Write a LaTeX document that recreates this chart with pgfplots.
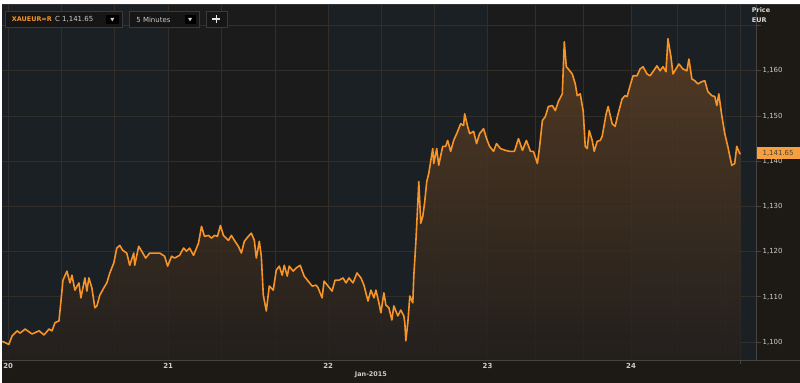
\documentclass[border=0pt]{standalone}
\usepackage{pgfplots}
\pgfplotsset{compat=1.18}
\usepackage{pgfplotstable}
\usepackage{fontspec}
\setmainfont{DejaVu Sans}
\definecolor{bandA}{RGB}{27,32,37}
\definecolor{bandB}{RGB}{27,27,27}
\definecolor{outerc}{RGB}{29,26,22}
\definecolor{gridc}{RGB}{50,47,43}
\definecolor{lineor}{RGB}{247,148,40}
\definecolor{tagor}{RGB}{247,160,64}
\definecolor{fillTop}{RGB}{92,63,36}
\definecolor{fillBot}{RGB}{36,32,29}
\definecolor{labc}{RGB}{205,205,205}
\definecolor{boxbg}{RGB}{22,22,22}
\definecolor{boxln}{RGB}{58,58,58}
\definecolor{axln}{RGB}{70,68,65}

\pgfplotstableread{
x p
0 1100.2
6.7 1099.5
10 1101.4
15 1102.5
18 1102.0
23 1102.9
30 1101.8
37 1102.5
42 1101.6
47 1102.9
50 1102.5
53 1104.3
57 1104.7
59 1109.1
61 1113.7
65 1115.7
68 1113.1
70 1114.8
73 1111.5
77 1113.1
79 1109.8
83 1114.2
85 1111.3
87 1114.2
90 1112.0
93 1107.6
95 1108.0
98 1110.4
102 1112.0
105 1113.1
108 1115.3
112 1117.5
115 1120.8
118 1121.4
121 1120.3
125 1119.7
128 1117.0
132 1119.7
133 1117.0
137 1121.2
140 1120.1
144 1118.6
148 1119.7
153 1119.7
158 1119.7
163 1119.0
166 1116.8
170 1119.0
173 1118.6
178 1119.2
182 1120.8
185 1120.1
188 1120.8
192 1119.2
197 1121.9
200 1125.6
203 1123.4
207 1123.6
210 1123.0
213 1123.6
216 1123.4
219 1125.8
222 1123.6
227 1122.5
230 1123.6
233 1122.5
237 1121.2
240 1119.7
243 1122.3
247 1123.4
250 1124.1
253 1122.5
255 1118.6
258 1122.3
260 1119.0
262 1110.4
265 1106.9
268 1112.4
272 1111.5
275 1115.9
278 1116.8
281 1114.8
283 1117.0
286 1114.6
288 1116.8
292 1115.7
295 1116.4
299 1117.0
303 1114.6
307 1113.5
311 1112.4
315 1112.6
317 1112.0
321 1109.8
323 1113.5
327 1112.4
331 1111.3
334 1113.7
338 1113.7
342 1114.2
345 1113.1
348 1114.2
352 1113.1
356 1115.3
360 1114.2
363 1112.6
367 1109.1
370 1111.5
373 1109.8
375 1111.5
378 1108.7
380 1106.5
383 1110.9
385 1108.2
388 1107.6
391 1104.9
393 1108.0
397 1105.8
400 1107.1
403 1105.8
404 1104.3
405 1100.3
407 1104.3
409 1110.2
412 1108.7
413 1114.6
415 1121.9
417 1130.7
418 1135.5
420 1126.3
422 1127.8
424 1131.1
426 1135.5
428 1137.3
432 1142.8
433 1139.5
436 1142.8
438 1139.1
442 1143.3
445 1143.3
447 1144.6
450 1142.2
453 1144.6
457 1146.6
460 1148.3
463 1147.9
464 1150.5
467 1147.7
469 1146.1
473 1146.6
476 1143.9
479 1146.1
483 1147.2
486 1145.0
489 1143.3
493 1142.2
496 1143.9
500 1142.8
505 1142.4
509 1142.2
514 1142.2
518 1145.0
522 1142.4
526 1144.6
530 1142.2
533 1142.2
537 1139.5
539 1142.8
542 1149.0
545 1149.9
548 1152.1
552 1152.3
555 1151.2
558 1153.2
562 1154.9
564 1166.4
566 1160.9
568 1160.4
572 1159.3
575 1157.1
577 1154.5
580 1154.9
583 1151.0
585 1143.3
587 1142.8
589 1146.8
592 1144.6
594 1142.2
597 1144.4
600 1144.6
602 1145.5
606 1150.5
608 1152.1
612 1148.3
615 1147.7
618 1150.5
622 1153.8
625 1154.5
627 1154.3
630 1156.7
633 1158.9
637 1158.9
640 1160.4
643 1160.9
647 1159.3
650 1158.9
653 1159.8
657 1161.1
660 1160.0
663 1160.9
666 1159.8
668 1167.1
671 1163.1
673 1159.3
676 1160.4
679 1161.5
683 1160.4
687 1160.0
689 1162.6
692 1158.2
695 1157.8
698 1157.1
702 1157.6
705 1157.8
708 1155.4
712 1154.5
715 1154.3
717 1152.3
719 1154.9
722 1150.1
725 1146.1
728 1143.3
732 1139.1
735 1139.5
737 1143.3
740 1141.7
741 1141.65
}\pricedata

\begin{document}
\begin{tikzpicture}
\begin{scope}[x=1bp,y=1bp]
\fill[outerc] (0,-23) rectangle (800,357);
\fill[bandA] (0,0) rectangle (166.5,357);
\fill[bandB] (166.5,0) rectangle (327,357);
\fill[bandA] (327,0) rectangle (487,357);
\fill[bandB] (487,0) rectangle (631,357);
\fill[bandA] (631,0) rectangle (757,357);
\end{scope}
\begin{axis}[
  at={(0,0)}, anchor=south west, scale only axis,
  width=757bp, height=357bp,
  xmin=0, xmax=757, ymin=1096.1, ymax=1174.77,
  axis line style={draw=none},
  xtick={6,60,113,166.5,220,274,327,381,434,487,535,583,631,678,726,741},
  xticklabels={20,,,21,,,22,,,23,,,24,,,},
  ytick={1100,1110,1120,1130,1140,1150,1160,1170},
  yticklabels={{1,100},{1,110},{1,120},{1,130},{1,140},{1,150},{1,160},{}},
  yticklabel pos=right,
  ytick pos=right,
  grid=major,
  major grid style={gridc, line width=1bp},
  xtick style={draw=none},
  ytick style={axln, line width=1bp},
  tick align=outside,
  major tick length=4bp,
  yticklabel style={font=\fontsize{7}{8}\selectfont, text=labc, anchor=west, xshift=-1.5bp},
  xticklabel style={font=\fontsize{7}{8}\selectfont\bfseries, text=labc, yshift=4bp},
]
\addplot[draw=none, top color=fillTop, bottom color=fillBot, fill opacity=0.85]
  table[x=x,y=p]{\pricedata} -- (axis cs:741,1096.1) -- (axis cs:0,1096.1) -- cycle;
\addplot[lineor, line width=1.6bp, line join=round] table[x=x,y=p]{\pricedata};
\end{axis}
\begin{scope}[x=1bp,y=1bp]
% axis frame lines
\draw[axln, line width=1bp] (0,-1) -- (800,-1);
\draw[axln, line width=1bp] (757,0) -- (757,357);
\draw[black!80, line width=1bp] (0,356.5) -- (800,356.5);
\draw[axln, line width=1bp] (741,-1) -- (741,-4);
% x labels
\node[font=\fontsize{6.5}{8}\selectfont\bfseries, text=labc] at (370,-15) {Jan-2015};
% price header
\node[font=\fontsize{6.5}{8}\selectfont\bfseries, text=white!85!black, anchor=west, inner sep=0] at (752,351) {Price};
\node[font=\fontsize{6.5}{8}\selectfont\bfseries, text=white!85!black, anchor=west, inner sep=0] at (752,341) {EUR};
% price tag
\fill[tagor] (757,201) rectangle (800,214);
\node[font=\fontsize{7}{8}\selectfont, text=black!75, inner sep=0] at (778.5,207.5) {1,141.65};
% toolbar
\fill[boxbg, draw=boxln, line width=0.8bp] (3.5,350) rectangle (120.5,333.5);
\node[font=\fontsize{6.5}{8}\selectfont\bfseries, text=lineor, anchor=west, inner sep=0] at (9.5,341.5) {XAUEUR=R};
\node[font=\fontsize{7}{8}\selectfont, text=labc, anchor=west, inner sep=0] at (53,341.5) {C 1,141.65};
\fill[black] (104,345.5) rectangle (117,336.5);
\fill[labc] (108.5,343) -- (112.5,343) -- (110.5,339.5) -- cycle;
\fill[boxbg, draw=boxln, line width=0.8bp] (127.5,350) rectangle (197.5,333.5);
\node[font=\fontsize{7}{8}\selectfont, text=labc, anchor=west, inner sep=0] at (134.5,341.5) {5 Minutes};
\fill[black] (183,345.5) rectangle (194,336.5);
\fill[labc] (186.5,343) -- (190.5,343) -- (188.5,339.5) -- cycle;
\fill[boxbg, draw=boxln, line width=0.8bp] (204.5,350) rectangle (225.5,333.5);
\draw[white!90!black, line width=1.5bp] (211,342) -- (219,342) (215,338) -- (215,346);
\end{scope}
\end{tikzpicture}
\end{document}
